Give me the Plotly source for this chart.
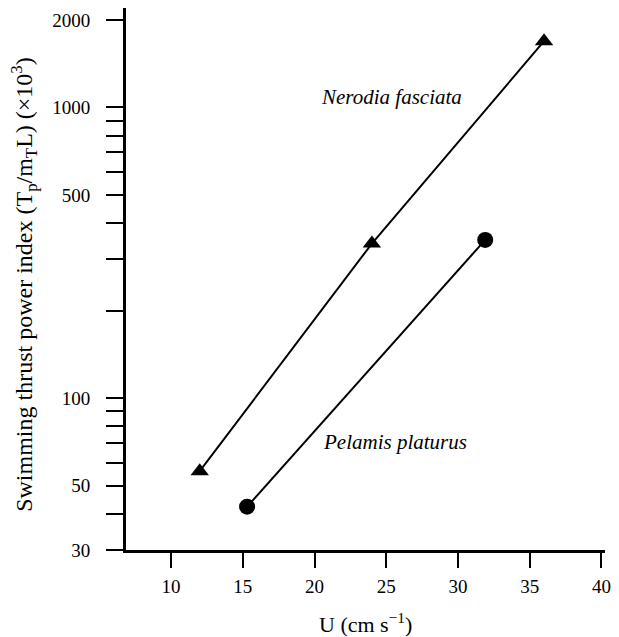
import plotly.graph_objects as go

# Data
nerodia_u = [12, 24, 36]
nerodia_p = [56, 340, 1690]
pelamis_u = [15.3, 31.9]
pelamis_p = [42.3, 350]

y_major_ticks = [30, 50, 100, 500, 1000, 2000]
y_major_text = ["30", "50", "100", "500", "1000", "2000"]
y_minor_ticks = [40, 60, 70, 80, 90, 200, 300, 400, 600, 700, 800, 900]
x_tick_vals = [10, 15, 20, 25, 30, 35, 40]

FONT = "Liberation Serif"

fig = go.Figure()
fig.add_trace(go.Scatter(
    x=nerodia_u, y=nerodia_p, mode="lines+markers",
    line=dict(color="black", width=2),
    marker=dict(symbol="triangle-up", size=16, color="black"),
    name="Nerodia fasciata", showlegend=False))
fig.add_trace(go.Scatter(
    x=pelamis_u, y=pelamis_p, mode="lines+markers",
    line=dict(color="black", width=2),
    marker=dict(symbol="circle", size=16, color="black"),
    name="Pelamis platurus", showlegend=False))

fig.update_layout(
    width=619, height=637,
    margin=dict(l=126, r=8, t=8, b=87),
    paper_bgcolor="white", plot_bgcolor="white",
    font=dict(family=FONT, size=19, color="black"),
    xaxis=dict(
        range=[6.86, 40.25], tickvals=x_tick_vals,
        showgrid=False, zeroline=False,
        showline=True, linecolor="black", linewidth=3,
        ticks="outside", ticklen=15, tickwidth=2, tickcolor="black",
        ticklabelstandoff=2,
        tickfont=dict(family=FONT, size=19),
    ),
    yaxis=dict(
        type="log", range=[1.4771, 3.342],
        tickvals=y_major_ticks, ticktext=y_major_text,
        showgrid=False, zeroline=False,
        showline=True, linecolor="black", linewidth=3,
        ticks="outside", ticklen=17, tickwidth=2, tickcolor="black",
        ticklabelstandoff=12,
        tickfont=dict(family=FONT, size=19),
        minor=dict(tickvals=y_minor_ticks, ticks="outside", ticklen=17,
                   tickwidth=2, tickcolor="black", showgrid=False),
    ),
    annotations=[
        dict(text="Swimming thrust power index (T<sub>p</sub>/m<sub>T</sub>L) (×10<sup>3</sup>)",
             xref="paper", yref="paper", x=-0.2144, y=0.4898, textangle=-90,
             xanchor="center", yanchor="middle",
             showarrow=False, font=dict(family=FONT, size=24)),
        dict(text="U (cm s<sup>−1</sup>)", xref="paper", yref="paper",
             x=0.501, y=-0.134, xanchor="center", yanchor="middle",
             showarrow=False, font=dict(family=FONT, size=22)),
        dict(text="<i>Nerodia fasciata</i>", xref="paper", yref="paper",
             x=0.555, y=0.836, xanchor="center", yanchor="middle",
             showarrow=False, font=dict(family=FONT, size=21)),
        dict(text="<i>Pelamis platurus</i>", xref="paper", yref="paper",
             x=0.561, y=0.199, xanchor="center", yanchor="middle",
             showarrow=False, font=dict(family=FONT, size=21)),
    ],
)

fig.write_html("out.html", config={"displayModeBar": False},
               post_script="document.body.style.margin='0';")
